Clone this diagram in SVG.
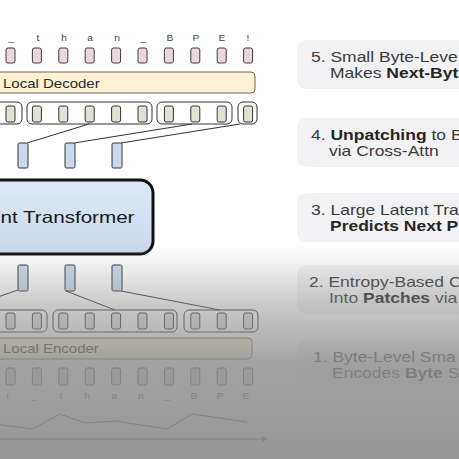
<svg xmlns="http://www.w3.org/2000/svg" width="459" height="459" viewBox="0 0 459 459">
<style>
.pk{fill:#ead6df;stroke:#3c3c3c;stroke-width:1}
.gr{fill:#dbe5d2;stroke:#333;stroke-width:1}
.grp{fill:none;stroke:#333;stroke-width:1}
.bl{fill:#cbd9ee;stroke:#333;stroke-width:1}
.ln{stroke:#333;stroke-width:1;fill:none}
.ch{font-family:"Liberation Sans",Arial,sans-serif;font-size:8.5px;fill:#444;text-anchor:middle}
.lbl{font-family:"Liberation Sans",Arial,sans-serif;font-size:12.5px;fill:#2a2a2a}
.pn{fill:#f2f2f4}
.pt{font-family:"Liberation Sans",Arial,sans-serif;font-size:14px;fill:#3a3a3a}
.b{font-weight:bold;fill:#262626}
</style>
<defs>
<linearGradient id="lt" x1="0" y1="0" x2="0" y2="1">
<stop offset="0" stop-color="#dde9f5"/>
<stop offset="1" stop-color="#c8d9ec"/>
</linearGradient>
<linearGradient id="fog" gradientUnits="userSpaceOnUse" x1="0" y1="245" x2="0" y2="459">
<stop offset="0" stop-color="#8e8e8e" stop-opacity="0"/>
<stop offset="0.12" stop-color="#8e8e8e" stop-opacity="0.18"/>
<stop offset="0.28" stop-color="#8e8e8e" stop-opacity="0.48"/>
<stop offset="0.45" stop-color="#8e8e8e" stop-opacity="0.68"/>
<stop offset="0.55" stop-color="#8e8e8e" stop-opacity="0.82"/>
<stop offset="0.7" stop-color="#8e8e8e" stop-opacity="0.85"/>
<stop offset="1" stop-color="#8e8e8e" stop-opacity="0.92"/>
</linearGradient>
<marker id="ar" markerWidth="6" markerHeight="6" refX="5" refY="3" orient="auto" markerUnits="userSpaceOnUse">
<path d="M0,0 L6,3 L0,6 z" fill="#444"/>
</marker>
</defs>
<rect width="459" height="459" fill="#ffffff"/>

<g id="output-bytes">
<text class="ch" transform="matrix(1.2 0 0 1 11 41)">_</text>
<text class="ch" transform="matrix(1.2 0 0 1 38 41)">t</text>
<text class="ch" transform="matrix(1.2 0 0 1 64 41)">h</text>
<text class="ch" transform="matrix(1.2 0 0 1 90 41)">a</text>
<text class="ch" transform="matrix(1.2 0 0 1 117 41)">n</text>
<text class="ch" transform="matrix(1.2 0 0 1 143 41)">_</text>
<text class="ch" transform="matrix(1.2 0 0 1 170 41)">B</text>
<text class="ch" transform="matrix(1.2 0 0 1 196 41)">P</text>
<text class="ch" transform="matrix(1.2 0 0 1 222 41)">E</text>
<text class="ch" transform="matrix(1.2 0 0 1 248 41)">!</text>
<rect class="pk" x="6" y="48" width="9" height="15" rx="2"/>
<rect class="pk" x="32.4" y="48" width="9" height="15" rx="2"/>
<rect class="pk" x="58.8" y="48" width="9" height="15" rx="2"/>
<rect class="pk" x="85.2" y="48" width="9" height="15" rx="2"/>
<rect class="pk" x="111.6" y="48" width="9" height="15" rx="2"/>
<rect class="pk" x="138" y="48" width="9" height="15" rx="2"/>
<rect class="pk" x="164.4" y="48" width="9" height="15" rx="2"/>
<rect class="pk" x="190.8" y="48" width="9" height="15" rx="2"/>
<rect class="pk" x="217.2" y="48" width="9" height="15" rx="2"/>
<rect class="pk" x="243.6" y="48" width="9" height="15" rx="2"/>
</g>

<g id="local-decoder">
<rect x="-10" y="72" width="265" height="21" rx="4" fill="#fdf1d3" stroke="#6e6656" stroke-width="1"/>
<text class="lbl" transform="matrix(1.2 0 0 1 3 88)">Local Decoder</text>
</g>

<g id="decoder-patches">
<rect class="grp" x="-30" y="102" width="52" height="22" rx="5"/>
<rect class="grp" x="27" y="102" width="125" height="22" rx="5"/>
<rect class="grp" x="157" y="102" width="75" height="22" rx="5"/>
<rect class="grp" x="238" y="102" width="19" height="22" rx="5"/>
<rect class="gr" x="6" y="106" width="9" height="16" rx="2"/>
<rect class="gr" x="32.4" y="106" width="9" height="16" rx="2"/>
<rect class="gr" x="58.8" y="106" width="9" height="16" rx="2"/>
<rect class="gr" x="85.2" y="106" width="9" height="16" rx="2"/>
<rect class="gr" x="111.6" y="106" width="9" height="16" rx="2"/>
<rect class="gr" x="138" y="106" width="9" height="16" rx="2"/>
<rect class="gr" x="164.4" y="106" width="9" height="16" rx="2"/>
<rect class="gr" x="190.8" y="106" width="9" height="16" rx="2"/>
<rect class="gr" x="217.2" y="106" width="9" height="16" rx="2"/>
<rect class="gr" x="243.6" y="106" width="9" height="16" rx="2"/>
</g>

<g id="latent-outputs">
<rect class="bl" x="18" y="143" width="10" height="25" rx="1.5"/>
<rect class="bl" x="65" y="143" width="10" height="25" rx="1.5"/>
<rect class="bl" x="112" y="143" width="10" height="25" rx="1.5"/>
</g>

<g id="latent-transformer">
<rect x="-20" y="180" width="173" height="74" rx="13" fill="url(#lt)" stroke="#111" stroke-width="3"/>
<text transform="matrix(1.25 0 0 1 0.5 223)" font-family="Liberation Sans,Arial,sans-serif" font-size="16.5" fill="#1a1a1a">nt Transformer</text>
</g>

<g id="latent-inputs">
<rect class="bl" x="18" y="265" width="10" height="26" rx="1.5"/>
<rect class="bl" x="65" y="265" width="10" height="26" rx="1.5"/>
<rect class="bl" x="112" y="265" width="10" height="26" rx="1.5"/>
</g>

<g id="encoder-patches">
<rect class="grp" x="-40" y="310" width="87" height="22" rx="5"/>
<rect class="grp" x="53" y="310" width="124" height="22" rx="5"/>
<rect class="grp" x="184" y="310" width="74" height="22" rx="5"/>
<rect class="gr" x="6" y="313" width="9" height="16" rx="2"/>
<rect class="gr" x="32.4" y="313" width="9" height="16" rx="2"/>
<rect class="gr" x="58.8" y="313" width="9" height="16" rx="2"/>
<rect class="gr" x="85.2" y="313" width="9" height="16" rx="2"/>
<rect class="gr" x="111.6" y="313" width="9" height="16" rx="2"/>
<rect class="gr" x="138" y="313" width="9" height="16" rx="2"/>
<rect class="gr" x="164.4" y="313" width="9" height="16" rx="2"/>
<rect class="gr" x="190.8" y="313" width="9" height="16" rx="2"/>
<rect class="gr" x="217.2" y="313" width="9" height="16" rx="2"/>
<rect class="gr" x="243.6" y="313" width="9" height="16" rx="2"/>
</g>

<g id="local-encoder">
<rect x="-10" y="338" width="262" height="21" rx="4" fill="#fdf1d3" stroke="#6e6656" stroke-width="1"/>
<text class="lbl" transform="matrix(1.2 0 0 1 3 353)">Local Encoder</text>
</g>

<g id="input-bytes">
<rect class="pk" x="6" y="368" width="9" height="17" rx="2"/>
<rect class="pk" x="32.4" y="368" width="9" height="17" rx="2"/>
<rect class="pk" x="58.8" y="368" width="9" height="17" rx="2"/>
<rect class="pk" x="85.2" y="368" width="9" height="17" rx="2"/>
<rect class="pk" x="111.6" y="368" width="9" height="17" rx="2"/>
<rect class="pk" x="138" y="368" width="9" height="17" rx="2"/>
<rect class="pk" x="164.4" y="368" width="9" height="17" rx="2"/>
<rect class="pk" x="190.8" y="368" width="9" height="17" rx="2"/>
<rect class="pk" x="217.2" y="368" width="9" height="17" rx="2"/>
<rect class="pk" x="243.6" y="368" width="9" height="17" rx="2"/>
<text class="ch" transform="matrix(1.2 0 0 1 8 399)">r</text>
<text class="ch" transform="matrix(1.2 0 0 1 34 399)">_</text>
<text class="ch" transform="matrix(1.2 0 0 1 61 399)">t</text>
<text class="ch" transform="matrix(1.2 0 0 1 87 399)">h</text>
<text class="ch" transform="matrix(1.2 0 0 1 114 399)">a</text>
<text class="ch" transform="matrix(1.2 0 0 1 141 399)">n</text>
<text class="ch" transform="matrix(1.2 0 0 1 167 399)">_</text>
<text class="ch" transform="matrix(1.2 0 0 1 194 399)">B</text>
<text class="ch" transform="matrix(1.2 0 0 1 220 399)">P</text>
<text class="ch" transform="matrix(1.2 0 0 1 246 399)">E</text>
</g>

<g id="entropy-chart">
<polyline class="ln" points="-5,424 33,429 60,414 85,423 115,421 167,429 192,414 247,422"/>
<line class="ln" x1="-5" y1="439" x2="267" y2="439" marker-end="url(#ar)"/>
</g>

<g id="connectors">
<line class="ln" x1="89" y1="124" x2="27" y2="143"/>
<line class="ln" x1="192" y1="124" x2="74" y2="143"/>
<line class="ln" x1="240" y1="124" x2="121" y2="143"/>
<line class="ln" x1="18" y1="290" x2="-40" y2="310"/>
<line class="ln" x1="66" y1="291" x2="115" y2="310"/>
<line class="ln" x1="121" y1="291" x2="220" y2="310"/>
</g>

<g id="step5">
<rect class="pn" x="297" y="40" width="180" height="49" rx="9"/>
<text class="pt" transform="matrix(1.25 0 0 1 311 62)">5. Small Byte-Leve</text>
<text class="pt" transform="matrix(1.25 0 0 1 330 78)">Makes <tspan class="b">Next-Byt</tspan></text>
</g>
<g id="step4">
<rect class="pn" x="297" y="118" width="180" height="49" rx="9"/>
<text class="pt" transform="matrix(1.25 0 0 1 311 140)">4. <tspan class="b">Unpatching</tspan> to B</text>
<text class="pt" transform="matrix(1.25 0 0 1 329 156)">via Cross-Attn</text>
</g>
<g id="step3">
<rect class="pn" x="297" y="193" width="180" height="49" rx="9"/>
<text class="pt" transform="matrix(1.25 0 0 1 311 215)">3. Large Latent Tra</text>
<text class="pt" transform="matrix(1.25 0 0 1 330 231)"><tspan class="b">Predicts Next P</tspan></text>
</g>
<g id="step2">
<rect class="pn" x="297" y="265" width="180" height="49" rx="9"/>
<text class="pt" transform="matrix(1.25 0 0 1 309 287)">2. Entropy-Based C</text>
<text class="pt" transform="matrix(1.25 0 0 1 329 303)">Into <tspan class="b">Patches</tspan> via</text>
</g>
<g id="step1">
<rect class="pn" x="297" y="340" width="180" height="49" rx="9"/>
<text class="pt" transform="matrix(1.25 0 0 1 313 362)">1. Byte-Level Sma</text>
<text class="pt" transform="matrix(1.25 0 0 1 332 378)">Encodes <tspan class="b">Byte</tspan> S</text>
</g>

<rect x="0" y="245" width="459" height="214" fill="url(#fog)" pointer-events="none"/>
</svg>
